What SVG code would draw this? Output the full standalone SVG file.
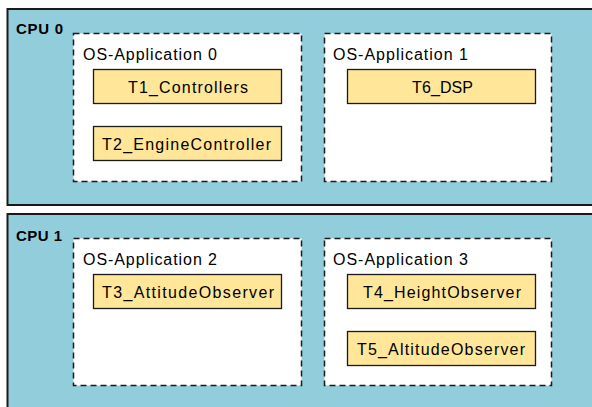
<svg xmlns="http://www.w3.org/2000/svg" width="592" height="407" viewBox="0 0 592 407">
<style>
.cpu{fill:#92CDDC;stroke:#1a1a1a;stroke-width:2}
.app{fill:#fff;stroke:#1a1a1a;stroke-width:1.5;stroke-dasharray:6 4}
.task{fill:#FFE699;stroke:#1a1a1a;stroke-width:1.3}
.cl{font-family:"Liberation Sans",Arial,sans-serif;font-weight:bold;font-size:15px;fill:#000}
.al{font-family:"Liberation Sans",Arial,sans-serif;font-size:16px;fill:#000}
.tl{font-family:"Liberation Sans",Arial,sans-serif;font-size:16px;fill:#000;text-anchor:middle}
</style>
<rect width="592" height="407" fill="#fff"/>
<g id="cpu0">
<rect class="cpu" x="7.5" y="9" width="600" height="196"/>
<text class="cl" x="16" y="34" textLength="47" lengthAdjust="spacing">CPU 0</text>
</g>
<g id="cpu1">
<rect class="cpu" x="7.5" y="214" width="600" height="210"/>
<text class="cl" x="16" y="241" textLength="46" lengthAdjust="spacing">CPU 1</text>
</g>
<g id="app0">
<rect class="app" x="73.5" y="33.5" width="228" height="148"/>
<text class="al" x="83" y="60" textLength="134" lengthAdjust="spacing">OS-Application 0</text>
</g>
<g id="app1">
<rect class="app" x="324.5" y="33.5" width="227" height="148"/>
<text class="al" x="333" y="60" textLength="135" lengthAdjust="spacing">OS-Application 1</text>
</g>
<g id="app2">
<rect class="app" x="73.5" y="238.5" width="228" height="147"/>
<text class="al" x="83" y="265" textLength="134" lengthAdjust="spacing">OS-Application 2</text>
</g>
<g id="app3">
<rect class="app" x="324.5" y="238.5" width="227" height="147"/>
<text class="al" x="333" y="265" textLength="135" lengthAdjust="spacing">OS-Application 3</text>
</g>
<g id="t1">
<rect class="task" x="93.5" y="69.5" width="188" height="34"/>
<text class="tl" x="188" y="93" textLength="120" lengthAdjust="spacing">T1_Controllers</text>
</g>
<g id="t2">
<rect class="task" x="93.5" y="126.5" width="188" height="34"/>
<text class="tl" x="186.5" y="150" textLength="169" lengthAdjust="spacing">T2_EngineController</text>
</g>
<g id="t6">
<rect class="task" x="347.5" y="69.5" width="188" height="34"/>
<text class="tl" x="442.5" y="93" textLength="61" lengthAdjust="spacing">T6_DSP</text>
</g>
<g id="t3">
<rect class="task" x="93.5" y="274.5" width="188" height="34"/>
<text class="tl" x="188" y="298" textLength="172" lengthAdjust="spacing">T3_AttitudeObserver</text>
</g>
<g id="t4">
<rect class="task" x="347.5" y="274.5" width="188" height="34"/>
<text class="tl" x="442" y="298" textLength="158" lengthAdjust="spacing">T4_HeightObserver</text>
</g>
<g id="t5">
<rect class="task" x="347.5" y="331.5" width="188" height="34"/>
<text class="tl" x="441" y="355" textLength="168" lengthAdjust="spacing">T5_AltitudeObserver</text>
</g>
<g id="connectors"></g>
</svg>
